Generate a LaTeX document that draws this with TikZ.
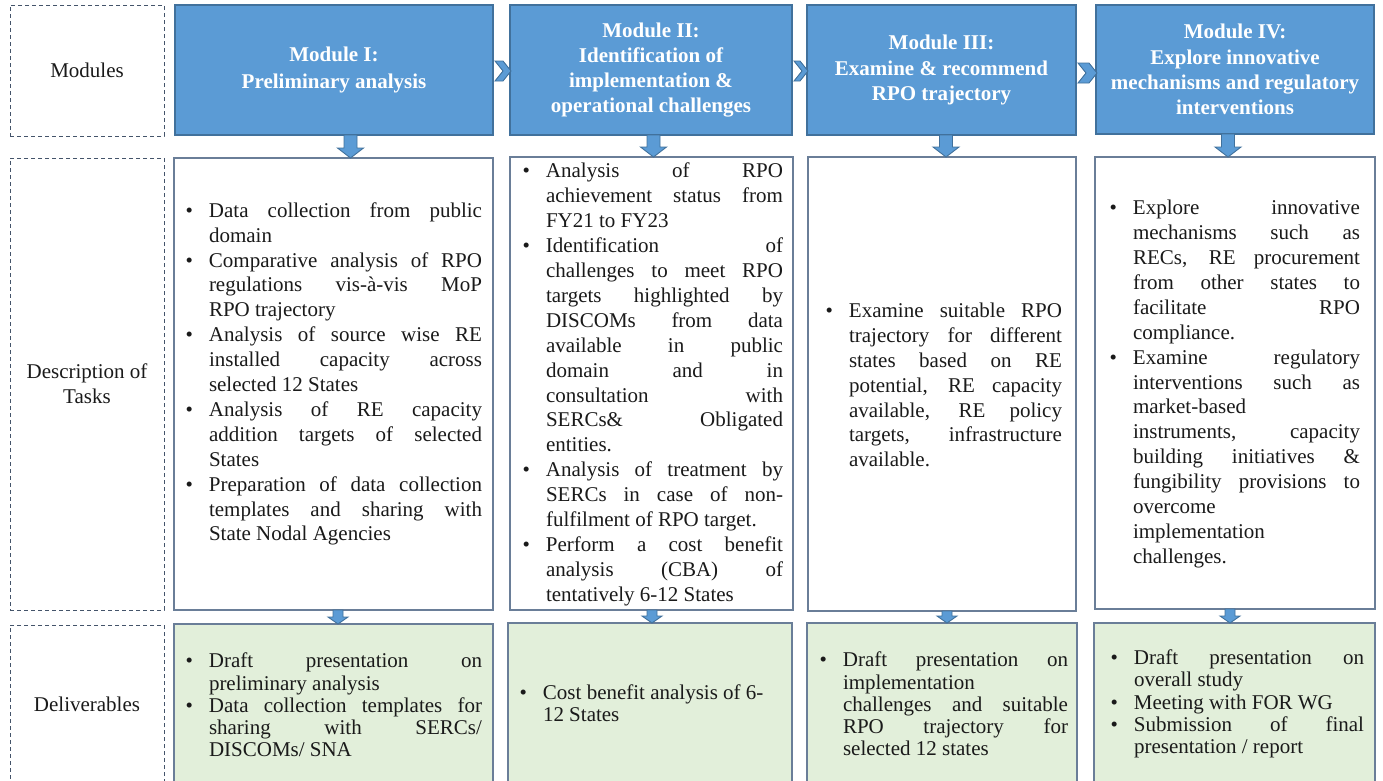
\documentclass[tikz,border=0pt]{standalone}
\usepackage{fontspec}
\setmainfont{Liberation Serif}
\usetikzlibrary{calc}
\definecolor{modblue}{HTML}{5B9BD5}
\definecolor{modedge}{HTML}{41719C}
\definecolor{taskedge}{HTML}{6A7E98}
\definecolor{delfill}{HTML}{E2EFDA}
\definecolor{dashc}{HTML}{44546A}
\definecolor{txtc}{HTML}{1A1A1A}
\newcommand\bodyfont{\fontsize{21}{24.9}\selectfont}
\newcommand\delfont{\fontsize{21}{22.3}\selectfont}
\newcommand\modfont{\fontsize{21}{25.2}\selectfont\bfseries}
\newcommand\xbul{\llap{\char"2022\hskip 16pt}}
\newcommand\xbj[1]{\hbox to \hsize{\xbul#1}}
\newcommand\xbl[1]{\hbox to \hsize{\xbul#1\hfil}}
\newcommand\xjl[1]{\hbox to \hsize{#1}}
\newcommand\xel[1]{\hbox to \hsize{#1\hfil}}
\newcommand\dnarrow[5]{%
  \path[arr] let \p1=#1, \p2=#2 in
  (\x1-#3pt,\y1) -- (\x1+#3pt,\y1) -- (\x1+#3pt,\y2+#5pt) -- (\x1+#4pt,\y2+#5pt)
  -- (\x1,\y2) -- (\x1-#4pt,\y2+#5pt) -- (\x1-#3pt,\y2+#5pt) -- cycle;}
\newcommand\chev[3]{%
  \path[arr] let \p1=#1, \p2=#2 in
  (\x1+2pt,\y1+#3pt+10pt) -- (\x2-7pt,\y1+#3pt+10pt) -- (\x2+1pt,\y1+#3pt)
  -- (\x2-7pt,\y1+#3pt-10pt) -- (\x1+2pt,\y1+#3pt-10pt) -- (\x1+10pt,\y1+#3pt) -- cycle;}
\tikzset{
  modbox/.style={draw=modedge, fill=modblue, line width=1.3pt, inner sep=0pt, outer sep=0pt,
    anchor=north west, text=white, font=\modfont, align=center},
  taskbox/.style={draw=taskedge, line width=1.5pt, fill=white, inner sep=0pt, outer sep=0pt, anchor=north west},
  delbox/.style={taskbox, fill=delfill},
  labbox/.style={draw=dashc, dash pattern=on 4pt off 3pt, line width=1pt, inner sep=0pt, outer sep=0pt,
    anchor=north west, align=center, font=\bodyfont, text=txtc},
  txt/.style={inner sep=0pt, outer sep=0pt, anchor=west, font=\bodyfont, text=txtc},
  dtxt/.style={txt, font=\delfont},
  arr/.style={fill=modblue, draw=modedge, line width=0.9pt, line join=miter},
}
\begin{document}
\begin{tikzpicture}[x=1pt,y=-1pt]
\useasboundingbox (0,0) rectangle (1383,780);
% row labels
\node[labbox, minimum width=154pt, minimum height=131pt] (l1) at (10,5) {Modules};
\node[labbox, minimum width=154pt, minimum height=452pt] (l2) at (10,158) {Description of\\Tasks};
\node[labbox, minimum width=154pt, minimum height=158pt] (l3) at (10,625) {Deliverables};
% modules
\node[modbox, minimum width=318pt, minimum height=130pt] (m1) at (175,5) {Module I:\\[2pt]Preliminary analysis};
\node[modbox, minimum width=282pt, minimum height=130pt] (m2) at (510,5) {Module II:\\Identification of\\implementation \&\\operational challenges};
\node[modbox, minimum width=269pt, minimum height=130pt] (m3) at (807,5) {Module III:\\Examine \& recommend\\RPO trajectory};
\node[modbox, minimum width=278pt, minimum height=129pt] (m4) at (1096,5) {Module IV:\\Explore innovative\\mechanisms and regulatory\\interventions};
% task boxes
\node[taskbox, minimum width=319pt, minimum height=452pt] (t1) at (174,158) {};
\node[taskbox, minimum width=283pt, minimum height=453pt] (t2) at (510,157) {};
\node[taskbox, minimum width=268pt, minimum height=454pt] (t3) at (808,157) {};
\node[taskbox, minimum width=280pt, minimum height=452pt] (t4) at (1095,157) {};
% deliverable boxes
\node[delbox, minimum width=319pt, minimum height=161pt] (d1) at (174,624) {};
\node[delbox, minimum width=284pt, minimum height=162pt] (d2) at (508,623) {};
\node[delbox, minimum width=270pt, minimum height=162pt] (d3) at (807,623) {};
\node[delbox, minimum width=281pt, minimum height=162pt] (d4) at (1094,623) {};
% chevrons between modules
\chev{(m1.east)}{(m2.west)}{-1}
\chev{(m2.east)}{(m3.west)}{-1}
\chev{(m3.east)}{(m4.west)}{-3}
% down arrows
\dnarrow{($(m1.south)+(16.5,0)$)}{(t1.north)}{6.5}{13}{10}
\dnarrow{($(m2.south)+(2.5,0)$)}{(t2.north)}{6.5}{13}{10}
\dnarrow{($(m3.south)+(4.5,0)$)}{(t3.north)}{6.5}{13}{10}
\dnarrow{($(m4.south)+(-7,0)$)}{(t4.north)}{6.5}{13}{10}
\dnarrow{($(t1.south)+(4.5,0)$)}{(d1.north)}{5}{10}{7}
\dnarrow{($(t2.south)+(0.5,0)$)}{(d2.north)}{5}{10}{7}
\dnarrow{($(t3.south)+(5,0)$)}{(d3.north)}{5}{10}{7}
\dnarrow{($(t4.south)+(-5,0)$)}{(d4.north)}{5}{10}{7}
% task texts
\node[txt] (t1x) at ($(t1.west)+(35,-10)$) {\vbox{\hsize=273pt
\xbj{Data collection from public}
\xel{domain}
\xbj{Comparative analysis of RPO}
\xjl{regulations vis-à-vis MoP}
\xel{RPO trajectory}
\xbj{Analysis of source wise RE}
\xjl{installed capacity across}
\xel{selected 12 States}
\xbj{Analysis of RE capacity}
\xjl{addition targets of selected}
\xel{States}
\xbj{Preparation of data collection}
\xjl{templates and sharing with}
\xel{State Nodal Agencies}}};
\node[txt] (t2x) at ($(t2.west)+(36,1)$) {\vbox{\hsize=237pt
\xbj{Analysis of RPO}
\xjl{achievement status from}
\xel{FY21 to FY23}
\xbj{Identification of}
\xjl{challenges to meet RPO}
\xjl{targets highlighted by}
\xjl{DISCOMs from data}
\xjl{available in public}
\xjl{domain and in}
\xjl{consultation with}
\xjl{SERCs\& Obligated}
\xel{entities.}
\xbj{Analysis of treatment by}
\xjl{SERCs in case of non-}
\xel{fulfilment of RPO target.}
\xbj{Perform a cost benefit}
\xjl{analysis (CBA) of}
\xel{tentatively 6-12 States}}};
\node[txt] (t3x) at ($(t3.west)+(41,1)$) {\vbox{\hsize=213pt
\xbj{Examine suitable RPO}
\xjl{trajectory for different}
\xjl{states based on RE}
\xjl{potential, RE capacity}
\xjl{available, RE policy}
\xjl{targets, infrastructure}
\xel{available.}}};
\node[txt] (t4x) at ($(t4.west)+(38,1)$) {\vbox{\hsize=227pt
\xbj{Explore innovative}
\xjl{mechanisms such as}
\xjl{RECs, RE procurement}
\xjl{from other states to}
\xjl{facilitate RPO}
\xel{compliance.}
\xbj{Examine regulatory}
\xjl{interventions such as}
\xel{market-based}
\xjl{instruments, capacity}
\xjl{building initiatives \&}
\xjl{fungibility provisions to}
\xel{overcome}
\xel{implementation}
\xel{challenges.}}};
% deliverable texts
\node[dtxt] (d1x) at ($(d1.north west)+(35,81)$) {\vbox{\hsize=273pt
\xbj{Draft presentation on}
\xel{preliminary analysis}
\xbj{Data collection templates for}
\xjl{sharing with SERCs/}
\xel{DISCOMs/ SNA}}};
\node[dtxt] (d2x) at ($(d2.north west)+(35,80)$) {\vbox{\hsize=239pt
\xbl{Cost benefit analysis of 6-}
\xel{12 States}}};
\node[dtxt] (d3x) at ($(d3.north west)+(36,81)$) {\vbox{\hsize=225pt
\xbj{Draft presentation on}
\xel{implementation}
\xjl{challenges and suitable}
\xjl{RPO trajectory for}
\xel{selected 12 states}}};
\node[dtxt] (d4x) at ($(d4.north west)+(40,81)$) {\vbox{\hsize=230pt
\xbj{Draft presentation on}
\xel{overall study}
\xbl{Meeting with FOR WG}
\xbj{Submission of final}
\xel{presentation / report}}};
\end{tikzpicture}
\end{document}
